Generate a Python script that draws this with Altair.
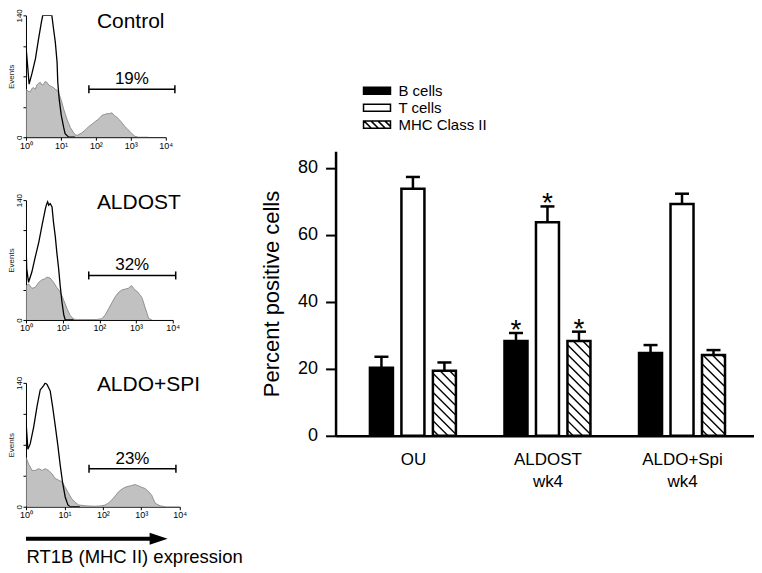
import json
import pandas as pd
import altair as alt

FONT = "Liberation Sans"

# ---------------- flow cytometry histograms ----------------
panel_titles = ["Control", "ALDOST", "ALDO+SPI"]
panel_pcts = ["19%", "32%", "23%"]
tick_vals = [1, 10, 100, 1000, 10000]
tick_labels = ["10⁰", "10¹", "10²", "10³", "10⁴"]

# x in decades (log10 of RT1B fluorescence), y in events
iso1_lx = [0.00, 0.09, 0.17, 0.27, 0.36, 0.44, 0.48, 0.55, 0.62, 0.68, 0.74, 0.79, 0.84, 0.89, 0.91, 0.95, 1.01, 1.08, 1.12, 1.22, 1.40]
iso1_ev = [105, 61, 73, 90, 113, 132, 140, 140, 140, 140, 140, 124, 109, 86, 63, 44, 25, 11, 4, 0, 0]
pos1_lx = [0.00, 0.06, 0.12, 0.17, 0.22, 0.27, 0.31, 0.36, 0.41, 0.46, 0.51, 0.55, 0.60, 0.65, 0.69, 0.74, 0.79, 0.84, 0.89, 0.94,
           0.98, 1.03, 1.08, 1.13, 1.17, 1.22, 1.27, 1.32, 1.36, 1.41, 1.46, 1.51, 1.60, 1.69, 1.79, 1.89, 1.98, 2.08, 2.17, 2.24,
           2.31, 2.38, 2.46, 2.53, 2.60, 2.67, 2.74, 2.81, 2.89, 2.96, 3.03, 3.12, 3.22, 3.50]
pos1_ev = [55, 53, 52, 56, 57, 55, 60, 62, 63, 60, 61, 64, 63, 60, 59, 58, 57, 55, 54, 50,
           46, 40, 32, 26, 21, 16, 11, 8, 5, 3, 2, 3, 5, 8, 12, 15, 18, 21, 25, 26,
           27, 27, 28, 25, 23, 20, 17, 13, 10, 7, 4, 1, 0, 0]

iso2_lx = [0.00, 0.02, 0.07, 0.16, 0.25, 0.35, 0.44, 0.53, 0.56, 0.59, 0.62, 0.66, 0.71, 0.75, 0.80, 0.84, 0.89, 0.93, 0.98, 1.03, 1.07, 1.30]
iso2_ev = [93, 60, 44, 56, 73, 91, 111, 130, 135, 138, 134, 136, 132, 114, 97, 79, 60, 41, 21, 6, 0, 0]
pos2_lx = [0.00, 0.07, 0.16, 0.25, 0.35, 0.44, 0.51, 0.57, 0.66, 0.75, 0.84, 0.93, 1.03, 1.12, 1.21, 1.30, 1.40, 1.60, 1.93, 2.07,
           2.16, 2.25, 2.34, 2.43, 2.52, 2.61, 2.70, 2.79, 2.84, 2.88, 2.93, 2.97, 3.04, 3.11, 3.16, 3.20, 3.25, 3.29, 3.34, 3.43]
pos2_ev = [40, 42, 37, 38, 44, 47, 48, 50, 49, 44, 38, 33, 23, 13, 5, 1, 0.5, 0.5, 0.5, 1.5,
           6, 13, 20, 27, 32, 35, 36, 37, 39, 40, 37, 35, 33, 29, 26, 21, 14, 9, 2, 0]

iso3_lx = [0.00, 0.05, 0.11, 0.20, 0.29, 0.37, 0.46, 0.50, 0.55, 0.63, 0.69, 0.76, 0.83, 0.89, 0.95, 1.02, 1.09, 1.15, 1.40]
iso3_ev = [97, 65, 71, 90, 114, 132, 137, 140, 138, 131, 114, 92, 69, 47, 28, 11, 2, 0, 0]
pos3_lx = [0.00, 0.07, 0.16, 0.24, 0.33, 0.42, 0.50, 0.59, 0.68, 0.76, 0.85, 0.94, 1.02, 1.11, 1.19, 1.28, 1.37, 1.54, 1.80, 1.97,
           2.06, 2.14, 2.23, 2.32, 2.41, 2.50, 2.58, 2.66, 2.75, 2.84, 2.93, 3.01, 3.10, 3.19, 3.27, 3.36, 3.49, 3.62]
pos3_ev = [56, 48, 41, 41, 43, 41, 43, 41, 37, 32, 30, 28, 22, 15, 9, 5, 2, 1, 0.5, 1,
           2, 4, 7.5, 12, 17, 20, 22, 23, 24, 25, 23.5, 22, 20.5, 17, 13, 4, 1, 0]

# marker gate: (low decade, high decade, events level)
gates = [(1.80, 4.26, 55), (1.71, 4.08, 52), (1.64, 3.90, 43)]

x_axis_title = "RT1B (MHC II) expression"


def hist_panel(idx, iso_lx, iso_ev, pos_lx, pos_ev, width, height, title_y, last=False):
    assert len(iso_lx) == len(iso_ev), idx
    assert len(pos_lx) == len(pos_ev), idx
    iso = pd.DataFrame({"fl": [10 ** v for v in iso_lx], "ev": iso_ev})
    pos = pd.DataFrame({"fl": [10 ** v for v in pos_lx], "ev": pos_ev})
    lo, hi, gy = gates[idx]
    gate_df = pd.DataFrame({"lo": [10 ** lo], "hi": [10 ** hi], "mid": [10 ** ((lo + hi) / 2)],
                            "ev": [gy], "pct": [panel_pcts[idx]]})
    ends_df = pd.DataFrame({"fl": [10 ** lo, 10 ** hi], "ev": [gy, gy]})
    title_df = pd.DataFrame({"t": [panel_titles[idx]]})

    xs = alt.Scale(type="log", domain=[1, 10000], nice=False)
    ys = alt.Scale(domain=[0, 140], nice=False)
    xax_kw = dict(values=tick_vals,
                  labelExpr=json.dumps(tick_labels, ensure_ascii=False) + "[round(log(datum.value)/LN10)]",
                  tickSize=3, labelFontSize=9, labelPadding=1, grid=False, labelFlush=False,
                  domainColor="black", tickColor="black", labelColor="black", domainWidth=1)
    if last:
        xax = alt.Axis(title=x_axis_title, titleFontSize=18.5, titleFontWeight="normal", titleColor="black",
                       titleAnchor="start", titleAlign="left", titleBaseline="alphabetic",
                       titleX=0, titleY=56, **xax_kw)
    else:
        xax = alt.Axis(title=None, **xax_kw)
    yax = alt.Axis(values=[0, 35, 70, 105, 140],
                   labelExpr="datum.value == 0 || datum.value == 140 ? datum.label : ''",
                   labelAngle=-90, labelAlign="center", labelBaseline="alphabetic", labelFlush=False,
                   labelFontSize=8, tickSize=3, labelPadding=1, grid=False,
                   title="Events", titleFontSize=8, titleFontWeight="normal", titlePadding=0,
                   domainColor="black", tickColor="black", labelColor="black", titleColor="#222222",
                   domainWidth=1)

    X = lambda f: alt.X(f, type="quantitative", scale=xs, axis=xax)
    Y = lambda f: alt.Y(f, type="quantitative", scale=ys, axis=yax)

    area = alt.Chart(pos).mark_area(color="#a6a6a6", clip=True,
                                    line={"color": "#7d7d7d", "strokeWidth": 0.8}).encode(x=X("fl"), y=Y("ev"))
    line = alt.Chart(iso).mark_line(color="black", strokeWidth=1.3, clip=True).encode(x=X("fl"), y=Y("ev"))
    gate = alt.Chart(gate_df).mark_rule(color="black", strokeWidth=1.5).encode(x=X("lo"), x2="hi", y=Y("ev"))
    ends = alt.Chart(ends_df).mark_point(shape="M0,-1L0,1", size=64, stroke="black", strokeWidth=1.5,
                                         opacity=1).encode(x=X("fl"), y=Y("ev"))
    pct = alt.Chart(gate_df).mark_text(fontSize=17, baseline="alphabetic", dy=-5, color="black").encode(
        x=X("mid"), y=Y("ev"), text="pct:N")
    ttl = alt.Chart(title_df).mark_text(fontSize=21, align="left", baseline="alphabetic", color="black").encode(
        x=alt.value(71), y=alt.value(title_y), text="t:N")
    layers = [area, line, gate, ends, pct, ttl]
    if last:
        arrow_df = pd.DataFrame({"a": [10 ** 0], "b": [10 ** 3.27], "h": [10 ** 3.45]})
        shaft = alt.Chart(arrow_df).mark_rule(color="black", strokeWidth=4).encode(
            x=X("a"), x2="b", y=alt.value(height + 32))
        head = alt.Chart(arrow_df).mark_point(shape="M-1,-0.67L1,0L-1,0.67Z", size=324, filled=True,
                                              color="black", opacity=1).encode(x=X("h"), y=alt.value(height + 32))
        layers += [shaft, head]
    return alt.layer(*layers).properties(width=width, height=height)


h1 = hist_panel(0, iso1_lx, iso1_ev, pos1_lx, pos1_ev, 140, 122, 13)
h2 = hist_panel(1, iso2_lx, iso2_ev, pos2_lx, pos2_ev, 147, 120, 9)
h3 = hist_panel(2, iso3_lx, iso3_ev, pos3_lx, pos3_ev, 154, 124, 8, last=True)

# ---------------- bar chart ----------------
groups = ["OU", "ALDOST\nwk4", "ALDO+Spi\nwk4"]
series = ["B cells", "T cells", "MHC Class II"]
b_vals = [20.3, 28.3, 24.7]
t_vals = [73.8, 63.8, 69.2]
m_vals = [19.4, 28.3, 24.1]
b_err = [3.3, 2.4, 2.4]
t_err = [3.5, 4.7, 3.1]
m_err = [2.5, 2.8, 1.5]
signif = [False, True, False]

BW, BH = 419, 285
XMIN, XMAX = -0.575, 2.535
YMAX = 85
SUB, HALF, CAP = 0.234, 0.0855, 0.052

vals = [b_vals, t_vals, m_vals]
errs = [b_err, t_err, m_err]
rows = []
for gi, g in enumerate(groups):
    for si, s in enumerate(series):
        xc = gi + (si - 1) * SUB
        v = vals[si][gi]
        rows.append(dict(group=g, series=s, value=v, zero=0.0, top=v + errs[si][gi], xc=xc,
                         xl=xc - HALF, xr=xc + HALF, cl=xc - CAP, cr=xc + CAP, sig=signif[gi]))
bars_df = pd.DataFrame(rows)

# diagonal hatching of the MHC class II bars (derived from the bar values)
px_x = BW / (XMAX - XMIN)
px_y = BH / YMAX
HATCH = 9.5
hatch = []
for r in rows:
    if r["series"] != series[2]:
        continue
    w = (r["xr"] - r["xl"]) * px_x
    h = r["value"] * px_y
    c = HATCH * 0.6
    while c < w + h:
        u0, u1 = max(0.0, c - h), min(w, c)
        if u1 > u0:
            hatch.append(dict(x=r["xl"] + u0 / px_x, y=(c - u0) / px_y,
                              x2=r["xl"] + u1 / px_x, y2=(c - u1) / px_y))
        c += HATCH
hatch_df = pd.DataFrame(hatch)

xsc = alt.Scale(domain=[XMIN, XMAX], nice=False, zero=False)
ysc = alt.Scale(domain=[0, YMAX], nice=False)
label_lines = json.dumps([g.split("\n") for g in groups], ensure_ascii=False)
bxax = alt.Axis(values=[0, 1, 2], labelExpr=label_lines + "[datum.value]", ticks=False, tickSize=0,
                labelFontSize=17, labelPadding=16, labelLineHeight=21.5, labelColor="black",
                domainColor="black", domainWidth=2.5, grid=False, title=None, labelFlush=False)
byax = alt.Axis(values=[0, 20, 40, 60, 80], tickSize=10, tickWidth=2, tickColor="black",
                domainColor="black", domainWidth=2.5, labelFontSize=18, labelPadding=8, labelColor="black",
                grid=False, labelFlush=False, title="Percent positive cells", titleFontSize=22,
                titleFontWeight="normal", titlePadding=14, titleColor="black")

BX = lambda f: alt.X(f, type="quantitative", scale=xsc, axis=bxax)
BY = lambda f: alt.Y(f, type="quantitative", scale=ysc, axis=byax)

fill_scale = alt.Scale(domain=series, range=["black", "white", "white"])
stroke_scale = alt.Scale(domain=series, range=["black", "black", "black"])


def hatch_symbol():
    parts = ["M-3,-0.8H3V0.8H-3Z"]
    x0 = -4.4
    while x0 < 3:
        t0 = max(0.0, (-3 - x0) / 1.6)
        t1 = min(1.0, (3 - x0) / 1.6)
        if t1 > t0:
            parts.append("M%.3f,%.3fL%.3f,%.3f" % (x0 + 1.6 * t0, -0.8 + 1.6 * t0, x0 + 1.6 * t1, -0.8 + 1.6 * t1))
        x0 += 1.55
    return "".join(parts)


rect_symbol = "M-3,-0.8H3V0.8H-3Z"
shape_scale = alt.Scale(domain=series, range=[rect_symbol, rect_symbol, hatch_symbol()])
# in a concatenated chart the legend is placed relative to the whole figure's origin
legend = alt.Legend(title=None, orient="none", legendX=344, legendY=68, symbolSize=81,
                    symbolStrokeColor="black", symbolStrokeWidth=1.5, symbolOpacity=1,
                    labelFontSize=15, labelColor="black", labelOffset=14, rowPadding=1, padding=0)

bars = alt.Chart(bars_df).mark_bar(stroke="black", strokeWidth=2.5).encode(
    x=BX("xl"), x2="xr", y=BY("value"), y2="zero",
    fill=alt.Fill("series:N", scale=fill_scale, legend=legend))
hatch_layer = alt.Chart(hatch_df).mark_rule(color="black", strokeWidth=1.4).encode(
    x=BX("x"), y=BY("y"), x2="x2", y2="y2")
stems = alt.Chart(bars_df).mark_rule(color="black", strokeWidth=2.5).encode(
    x=BX("xc"), y=BY("value"), y2="top")
caps = alt.Chart(bars_df).mark_rule(color="black", strokeWidth=2.5).encode(
    x=BX("cl"), x2="cr", y=BY("top"))
stars = alt.Chart(bars_df).transform_filter("datum.sig").mark_text(
    text="*", fontSize=28, baseline="alphabetic", dy=6, color="black").encode(x=BX("xc"), y=BY("top"))
legend_layer = alt.Chart(bars_df).transform_filter("datum.value < 0").mark_point(
    filled=True, strokeWidth=1.5, opacity=1).encode(
    x=BX("xc"), y=BY("value"),
    fill=alt.Fill("series:N", scale=fill_scale, legend=legend),
    stroke=alt.Stroke("series:N", scale=stroke_scale, legend=legend),
    shape=alt.Shape("series:N", scale=shape_scale, legend=legend))

bar_chart = alt.layer(bars, hatch_layer, stems, caps, stars, legend_layer).properties(width=BW, height=BH)

spacer = alt.Chart(pd.DataFrame({"t": [""]})).mark_text().encode(text="t:N").properties(width=10, height=100)

left = alt.vconcat(h1, h2, h3, spacing=63, bounds="flush")
right = alt.vconcat(spacer, bar_chart, spacing=36, bounds="flush")
chart = alt.hconcat(left, right, spacing=310, bounds="flush").properties(
    padding={"left": 0, "top": 0, "right": 0, "bottom": 0}
).configure(font=FONT).configure_view(stroke=None)

chart.save("out.html", embed_options={"renderer": "svg", "actions": False})
